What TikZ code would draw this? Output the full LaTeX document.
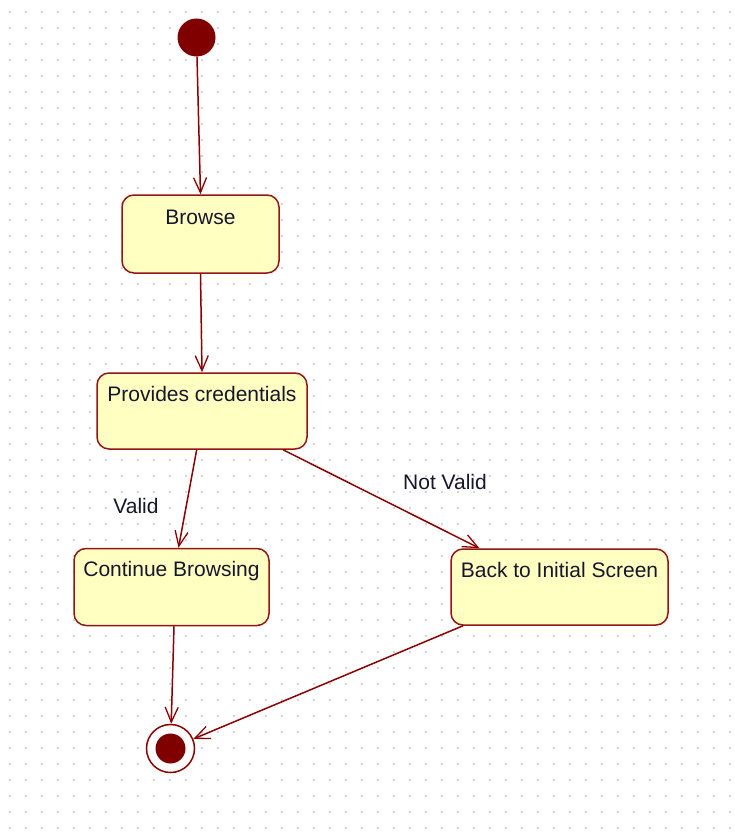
\documentclass[tikz,border=0pt]{standalone}
\usepackage{fontspec}
\setmainfont{Liberation Sans}
\usetikzlibrary{arrows.meta}

\definecolor{maroonline}{RGB}{140,0,0}
\definecolor{maroonfill}{RGB}{128,0,0}
\definecolor{boxfill}{RGB}{255,255,194}
\definecolor{boxedge}{RGB}{150,20,20}
\definecolor{labeltext}{RGB}{22,22,44}
\definecolor{griddot}{RGB}{200,200,200}

\tikzset{
  statebox/.style={draw=boxedge, fill=boxfill, line width=1.5pt,
    rounded corners=12pt, inner sep=0pt},
  statetext/.style={text=labeltext, font=\fontsize{21}{25}\selectfont,
    anchor=base, inner sep=0pt},
  transition/.style={draw=maroonline, line width=1.5pt,
    -{Straight Barb[length=15pt,width=13pt,line width=1.3pt]}},
  guard/.style={text=labeltext, font=\fontsize{21}{25}\selectfont,
    anchor=base, inner sep=0pt},
}

\begin{document}
\begin{tikzpicture}[x=1pt, y=-1pt]
  \useasboundingbox (0,0) rectangle (734,832);
  \fill[white] (0,0) rectangle (734,832);

  % dotted drawing grid
  \foreach \i in {0,...,45} {
    \foreach \j in {0,...,51} {
      \fill[griddot] (10+16*\i, 12+16*\j) circle (1.1pt);
    }
  }

  % initial pseudo-state
  \node[circle, fill=maroonfill, minimum size=38pt, inner sep=0pt] (init) at (196.5,37.5) {};

  % states (box plus its title near the top)
  \node[statebox, minimum width=157pt, minimum height=78pt] (browse) at (200.5,234) {};
  \node[statetext] (browsetxt) at ([yshift=-30pt]browse.north) {Browse};

  \node[statebox, minimum width=210pt, minimum height=76pt] (prov) at (202,411) {};
  \node[statetext] (provtxt) at ([yshift=-29pt]prov.north) {Provides credentials};

  \node[statebox, minimum width=195pt, minimum height=77pt] (cont) at (171.5,587) {};
  \node[statetext] (conttxt) at ([yshift=-29pt]cont.north) {Continue Browsing};

  \node[statebox, minimum width=217pt, minimum height=76pt] (back) at (559.5,587) {};
  \node[statetext] (backtxt) at ([yshift=-29pt]back.north) {Back to Initial Screen};

  % final state
  \node[circle, draw=maroonline, fill=white, line width=1.5pt, minimum size=48pt, inner sep=0pt] (final) at (170.5,748.5) {};
  \node[circle, fill=maroonfill, minimum size=30pt, inner sep=0pt] (finaldot) at (final.center) {};

  % transitions
  \draw[transition] (init) -- (browse.north);
  \draw[transition] (browse.south) -- (prov.north);
  \draw[transition] ([xshift=-5.3pt]prov.south) -- ([xshift=7pt]cont.north);
  \draw[transition] ([xshift=81pt]prov.south) -- ([xshift=-80pt]back.north);
  \draw[transition] ([xshift=2.5pt]cont.south) -- (final);
  \draw[transition] ([xshift=-96.5pt]back.south) -- (final);

  % guards
  \node[guard] (valid) at (136,513) {Valid};
  \node[guard] (notvalid) at (445,489) {Not Valid};
\end{tikzpicture}
\end{document}
